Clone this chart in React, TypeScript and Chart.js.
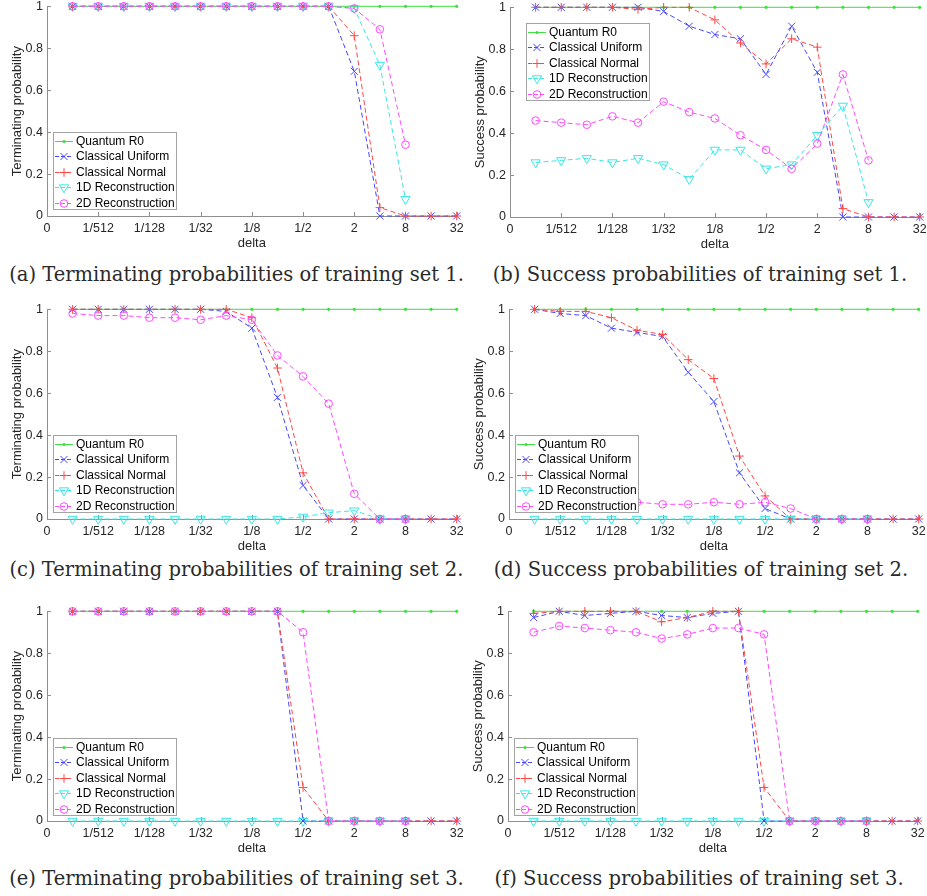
import React, { useEffect, useRef } from "react";
import { Chart, registerables } from "chart.js";

Chart.register(...registerables);

// ---------- data ----------
const deltas = [1 / 1024, 1 / 512, 1 / 256, 1 / 128, 1 / 64, 1 / 32, 1 / 16, 1 / 8, 1 / 4, 1 / 2, 1, 2, 4, 8, 16, 32];
const tickDeltas = [1 / 2048, 1 / 512, 1 / 128, 1 / 32, 1 / 8, 1 / 2, 2, 8, 32];
const tickLabels = ["0", "1/512", "1/128", "1/32", "1/8", "1/2", "2", "8", "32"];
const yTickLabels = ["0", "0.2", "0.4", "0.6", "0.8", "1"];
const seriesNames = ["Quantum R0", "Classical Uniform", "Classical Normal", "1D Reconstruction", "2D Reconstruction"];

const N = null;
const quantumR0 = [1, 1, 1, 1, 1, 1, 1, 1, 1, 1, 1, 1, 1, 1, 1, 1];

// (a) terminating, set 1
const uniformA = [1, 1, 1, 1, 1, 1, 1, 1, 1, 1, 1, 0.69, 0, 0, 0, 0];
const normalA = [1, 1, 1, 1, 1, 1, 1, 1, 1, 1, 1, 0.86, 0.04, 0, 0, 0];
const recon1A = [1, 1, 1, 1, 1, 1, 1, 1, 1, 1, 1, 0.99, 0.72, 0.08, N, N];
const recon2A = [1, 1, 1, 1, 1, 1, 1, 1, 1, 1, 1, 0.99, 0.89, 0.34, N, N];

// (b) success, set 1
const uniformB = [1, 1, 1, 1, 1, 0.98, 0.91, 0.87, 0.85, 0.68, 0.91, 0.69, 0, 0, 0, 0];
const normalB = [1, 1, 1, 1, 0.99, 1, 1, 0.94, 0.83, 0.73, 0.85, 0.81, 0.04, 0, 0, 0];
const recon1B = [0.26, 0.27, 0.28, 0.26, 0.28, 0.25, 0.18, 0.32, 0.32, 0.23, 0.25, 0.39, 0.53, 0.07, N, N];
const recon2B = [0.46, 0.45, 0.44, 0.48, 0.45, 0.55, 0.5, 0.47, 0.39, 0.32, 0.23, 0.35, 0.68, 0.27, N, N];

// (c) terminating, set 2
const uniformC = [1, 1, 1, 1, 1, 1, 0.99, 0.91, 0.58, 0.16, 0, 0, 0, 0, 0, 0];
const normalC = [1, 1, 1, 1, 1, 1, 1, 0.96, 0.72, 0.22, 0, 0, 0, 0, 0, 0];
const recon1C = [0, 0, 0, 0, 0, 0, 0, 0, 0, 0.01, 0.03, 0.04, 0, 0, N, N];
const recon2C = [0.98, 0.97, 0.97, 0.96, 0.96, 0.95, 0.97, 0.95, 0.78, 0.68, 0.55, 0.12, 0, 0, N, N];

// (d) success, set 2
const uniformD = [1, 0.98, 0.97, 0.91, 0.89, 0.87, 0.7, 0.56, 0.22, 0.05, 0, 0, 0, 0, 0, 0];
const normalD = [1, 0.99, 0.99, 0.96, 0.9, 0.88, 0.76, 0.67, 0.3, 0.11, 0, 0, 0, 0, 0, 0];
const recon1D = [0, 0, 0, 0, 0, 0, 0, 0, 0, 0, 0, 0, 0, 0, N, N];
const recon2D = [0.07, 0.08, 0.07, 0.08, 0.08, 0.07, 0.07, 0.08, 0.07, 0.08, 0.05, 0, 0, 0, N, N];

// (e) terminating, set 3
const uniformE = [1, 1, 1, 1, 1, 1, 1, 1, 1, 0, 0, 0, 0, 0, 0, 0];
const normalE = [1, 1, 1, 1, 1, 1, 1, 1, 1, 0.16, 0, 0, 0, 0, 0, 0];
const recon1E = [0, 0, 0, 0, 0, 0, 0, 0, 0, 0, 0, 0, 0, 0, N, N];
const recon2E = [1, 1, 1, 1, 1, 1, 1, 1, 1, 0.9, 0, 0, 0, 0, N, N];

// (f) success, set 3
const uniformF = [0.97, 1, 0.98, 0.99, 1, 0.98, 0.97, 0.99, 1, 0, 0, 0, 0, 0, 0, 0];
const normalF = [0.99, 1, 1, 1, 1, 0.95, 0.97, 1, 1, 0.16, 0, 0, 0, 0, 0, 0];
const recon1F = [0, 0, 0, 0, 0, 0, 0, 0, 0, 0, 0, 0, 0, 0, N, N];
const recon2F = [0.9, 0.93, 0.92, 0.91, 0.9, 0.87, 0.89, 0.92, 0.92, 0.89, 0, 0, 0, 0, N, N];

// ---------- styles ----------
const SANS = "'Liberation Sans', Arial, Helvetica, sans-serif";
const AXIS_COLOR = "#8f8f8f";
const TEXT_COLOR = "#262626";
const CANVAS_W = 463;
const CANVAS_H = 255;

type MarkerKind = "dot" | "x" | "+" | "v" | "o";
const seriesStyles: { color: string; dashed: boolean; kind: MarkerKind; r: number }[] = [
  { color: "#3ee03e", dashed: false, kind: "dot", r: 1.6 },
  { color: "#4646ff", dashed: true, kind: "x", r: 5 },
  { color: "#ff4646", dashed: true, kind: "+", r: 4.3 },
  { color: "#3be6e6", dashed: true, kind: "v", r: 5.3 },
  { color: "#ff4aff", dashed: true, kind: "o", r: 3.8 },
];

function chartPointStyle(kind: MarkerKind): string {
  switch (kind) {
    case "x":
      return "crossRot";
    case "+":
      return "cross";
    case "v":
      return "triangle";
    default:
      return "circle";
  }
}

function drawMarker(ctx: CanvasRenderingContext2D, kind: MarkerKind, r: number, x: number, y: number, color: string) {
  ctx.save();
  ctx.setLineDash([]);
  ctx.strokeStyle = color;
  ctx.fillStyle = color;
  ctx.lineWidth = 1;
  ctx.beginPath();
  if (kind === "dot") {
    ctx.arc(x, y, r, 0, Math.PI * 2);
    ctx.fill();
  } else if (kind === "x") {
    const d = r * Math.SQRT1_2;
    ctx.moveTo(x - d, y - d);
    ctx.lineTo(x + d, y + d);
    ctx.moveTo(x - d, y + d);
    ctx.lineTo(x + d, y - d);
    ctx.stroke();
  } else if (kind === "+") {
    ctx.moveTo(x - r, y);
    ctx.lineTo(x + r, y);
    ctx.moveTo(x, y - r);
    ctx.lineTo(x, y + r);
    ctx.stroke();
  } else if (kind === "v") {
    const s = r * Math.sin(Math.PI / 3);
    ctx.moveTo(x, y + r);
    ctx.lineTo(x - s, y - r / 2);
    ctx.lineTo(x + s, y - r / 2);
    ctx.closePath();
    ctx.stroke();
  } else {
    ctx.arc(x, y, r, 0, Math.PI * 2);
    ctx.stroke();
  }
  ctx.restore();
}

const inwardTicks = {
  id: "inwardTicks",
  beforeDatasetsDraw(chart: any) {
    const { ctx, chartArea, scales } = chart;
    ctx.save();
    ctx.strokeStyle = AXIS_COLOR;
    ctx.lineWidth = 1;
    ctx.beginPath();
    scales.x.ticks.forEach((t: any) => {
      const px = Math.round(scales.x.getPixelForValue(t.value)) + 0.5;
      ctx.moveTo(px, chartArea.bottom);
      ctx.lineTo(px, chartArea.bottom - 4);
    });
    scales.y.ticks.forEach((t: any) => {
      const py = Math.round(scales.y.getPixelForValue(t.value)) + 0.5;
      ctx.moveTo(chartArea.left, py);
      ctx.lineTo(chartArea.left + 4, py);
    });
    ctx.stroke();
    ctx.restore();
  },
};

const boxLegend = {
  id: "boxLegend",
  afterDatasetsDraw(chart: any, _args: any, opts: any) {
    const { ctx, chartArea } = chart;
    ctx.save();
    ctx.font = `12px ${SANS}`;
    const textW = Math.max(...seriesNames.map((n) => ctx.measureText(n).width));
    const w = Math.round(23 + textW + 2.5);
    const h = 78;
    const x0 = Math.round(chartArea.left + opts.dx);
    const y0 = opts.anchor === "top" ? Math.round(chartArea.top + opts.dy) : Math.round(chartArea.bottom - opts.dy - h);
    ctx.fillStyle = "#ffffff";
    ctx.fillRect(x0, y0, w, h);
    ctx.strokeStyle = "#a3a3a3";
    ctx.lineWidth = 1;
    ctx.strokeRect(x0 + 0.5, y0 + 0.5, w - 1, h - 1);
    seriesNames.forEach((name, i) => {
      const st = seriesStyles[i];
      const y = Math.round(y0 + 9 + i * 15.4) + 0.5;
      ctx.strokeStyle = st.color;
      ctx.lineWidth = 1;
      ctx.setLineDash(st.dashed ? [4, 2] : []);
      ctx.beginPath();
      ctx.moveTo(x0 + 2, y);
      ctx.lineTo(x0 + 20, y);
      ctx.stroke();
      ctx.setLineDash([]);
      drawMarker(ctx, st.kind, st.r, x0 + 11, y, st.color);
      ctx.fillStyle = "#000000";
      ctx.textAlign = "left";
      ctx.textBaseline = "middle";
      ctx.fillText(name, x0 + 23, y);
    });
    ctx.restore();
  },
};

type PanelSpec = {
  left: number;
  top: number;
  yTitle: string;
  series: (number | null)[][];
  legend: { anchor: "top" | "bottom"; dx: number; dy: number };
};

const panels: PanelSpec[] = [
  { left: 0, top: 0, yTitle: "Terminating probability", series: [quantumR0, uniformA, normalA, recon1A, recon2A], legend: { anchor: "bottom", dx: 6, dy: 6 } },
  { left: 463, top: 1, yTitle: "Success probability", series: [quantumR0, uniformB, normalB, recon1B, recon2B], legend: { anchor: "top", dx: 16, dy: 16 } },
  { left: 0, top: 303, yTitle: "Terminating probability", series: [quantumR0, uniformC, normalC, recon1C, recon2C], legend: { anchor: "bottom", dx: 6, dy: 6 } },
  { left: 462, top: 303, yTitle: "Success probability", series: [quantumR0, uniformD, normalD, recon1D, recon2D], legend: { anchor: "bottom", dx: 6, dy: 6 } },
  { left: 0, top: 605, yTitle: "Terminating probability", series: [quantumR0, uniformE, normalE, recon1E, recon2E], legend: { anchor: "bottom", dx: 6, dy: 5 } },
  { left: 461, top: 605, yTitle: "Success probability", series: [quantumR0, uniformF, normalF, recon1F, recon2F], legend: { anchor: "bottom", dx: 6, dy: 5 } },
];

const captions = [
  { text: "(a) Terminating probabilities of training set 1.", center: 236.5, baseline: 282 },
  { text: "(b) Success probabilities of training set 1.", center: 700, baseline: 282 },
  { text: "(c) Terminating probabilities of training set 2.", center: 236.5, baseline: 577 },
  { text: "(d) Success probabilities of training set 2.", center: 701, baseline: 577 },
  { text: "(e) Terminating probabilities of training set 3.", center: 236.5, baseline: 886 },
  { text: "(f) Success probabilities of training set 3.", center: 699, baseline: 886 },
];

function zeroPadding(scale: any) {
  scale.paddingTop = 0;
  scale.paddingBottom = 0;
  scale.paddingLeft = 0;
  scale.paddingRight = 0;
}

function makeConfig(spec: PanelSpec): any {
  const xs = deltas.map((d) => Math.log2(d));
  const tickXs = tickDeltas.map((d) => Math.log2(d));
  const datasets = spec.series.map((vals, i) => {
    const st = seriesStyles[i];
    const pts = vals
      .map((v, j) => (v === null ? null : { x: xs[j], y: v }))
      .filter((p) => p !== null);
    const open = st.kind === "v" || st.kind === "o";
    return {
      label: seriesNames[i],
      data: pts,
      borderColor: st.color,
      borderWidth: 1,
      borderDash: st.dashed ? [5, 3] : [],
      tension: 0,
      fill: false,
      clip: false,
      order: 4 - i,
      pointStyle: chartPointStyle(st.kind),
      pointRotation: st.kind === "v" ? 180 : 0,
      pointRadius: st.r,
      pointHoverRadius: st.r,
      pointBorderWidth: st.kind === "dot" ? 0 : 1,
      pointBorderColor: st.color,
      pointBackgroundColor: open ? "rgba(0,0,0,0)" : st.color,
    };
  });
  return {
    type: "line",
    data: { datasets },
    plugins: [inwardTicks, boxLegend],
    options: {
      animation: false,
      responsive: false,
      maintainAspectRatio: false,
      events: [],
      layout: { padding: { top: 6, right: 6, left: 0, bottom: 0 } },
      plugins: {
        legend: { display: false },
        tooltip: { enabled: false },
        boxLegend: spec.legend,
      },
      scales: {
        x: {
          type: "linear",
          min: tickXs[0],
          max: tickXs[tickXs.length - 1],
          afterBuildTicks: (scale: any) => {
            scale.ticks = tickXs.map((v) => ({ value: v }));
          },
          afterFit: (scale: any) => {
            scale.height = 39;
            zeroPadding(scale);
          },
          ticks: {
            autoSkip: false,
            maxRotation: 0,
            padding: 5,
            color: TEXT_COLOR,
            font: { family: SANS, size: 12.5 },
            callback: (_v: any, idx: number) => tickLabels[idx],
          },
          grid: { drawOnChartArea: false, drawTicks: false, color: "rgba(0,0,0,0)" },
          border: { display: true, color: AXIS_COLOR, width: 1 },
          title: {
            display: true,
            text: "delta",
            color: TEXT_COLOR,
            font: { family: SANS, size: 13 },
            padding: { top: 0, bottom: 3.5 },
          },
        },
        y: {
          type: "linear",
          min: 0,
          max: 1,
          afterBuildTicks: (scale: any) => {
            scale.ticks = yTickLabels.map((s) => ({ value: parseFloat(s) }));
          },
          ticks: {
            padding: 4,
            color: TEXT_COLOR,
            font: { family: SANS, size: 12.5 },
            callback: (_v: any, idx: number) => yTickLabels[idx],
          },
          afterFit: (scale: any) => {
            scale.width = 47;
            zeroPadding(scale);
          },
          grid: { drawOnChartArea: false, drawTicks: false, color: "rgba(0,0,0,0)" },
          border: { display: true, color: AXIS_COLOR, width: 1 },
          title: {
            display: true,
            text: spec.yTitle,
            color: TEXT_COLOR,
            font: { family: SANS, size: 13 },
            padding: { top: 10, bottom: 0 },
          },
        },
      },
    },
  };
}

function Panel({ spec }: { spec: PanelSpec }) {
  const ref = useRef<HTMLCanvasElement>(null);
  useEffect(() => {
    if (!ref.current) return;
    const chart = new Chart(ref.current, makeConfig(spec));
    return () => chart.destroy();
  }, [spec]);
  return (
    <canvas
      ref={ref}
      width={CANVAS_W}
      height={CANVAS_H}
      style={{ position: "absolute", left: spec.left, top: spec.top, width: CANVAS_W, height: CANVAS_H }}
    />
  );
}

export default function App() {
  const capSize = 19.5;
  const lineH = 24;
  // DejaVu Serif ascent ~0.928em, descent ~0.236em
  const baselineOffset = (lineH - capSize * 1.164) / 2 + capSize * 0.928;
  return (
    <div style={{ position: "absolute", left: 0, top: 0, width: 927, height: 896, background: "#ffffff", overflow: "hidden" }}>
      {panels.map((p, i) => (
        <Panel key={i} spec={p} />
      ))}
      {captions.map((c, i) => (
        <div
          key={"c" + i}
          style={{
            position: "absolute",
            left: c.center - 300,
            width: 600,
            top: c.baseline - baselineOffset,
            textAlign: "center",
            fontFamily: "'DejaVu Serif', serif",
            fontSize: capSize,
            lineHeight: `${lineH}px`,
            color: "#2a2a2a",
            whiteSpace: "nowrap",
          }}
        >
          {c.text}
        </div>
      ))}
    </div>
  );
}
